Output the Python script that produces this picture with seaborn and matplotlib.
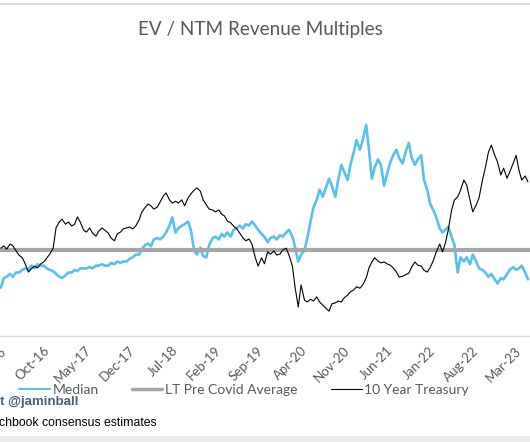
import pandas as pd
import numpy as np
import matplotlib.pyplot as plt
import matplotlib.dates as mdates
from matplotlib.lines import Line2D
import seaborn as sns

# Half-monthly observations, Feb 2016 - Apr 2023
DATES = pd.date_range('2016-02-15', periods=173, freq='SMS')

# Median EV / NTM revenue multiple (x)
MEDIAN = [
    3.5, 4.2, 4.3, 4.5, 4.3, 4.6, 4.6, 4.8, 4.9, 4.8, 5.1, 4.9, 5.2, 5.1, 5.1, 4.9,
    4.8, 4.7, 4.5, 4.3, 4.2, 4.4, 4.6, 4.6, 4.8, 4.7, 4.9, 4.9, 4.9, 5.0, 4.9, 5.1,
    5.1, 5.2, 5.1, 5.1, 5.3, 5.2, 5.4, 5.3, 5.4, 5.4, 5.6, 5.7, 5.9, 5.9, 6.3, 6.6,
    6.7, 6.5, 7.0, 7.1, 7.0, 7.2, 7.5, 8.0, 8.6, 7.5, 7.8, 8.0, 8.1, 8.3, 7.7, 6.2,
    5.9, 6.4, 5.8, 5.7, 6.6, 7.1, 7.2, 7.0, 7.4, 7.2, 7.5, 7.2, 7.7, 7.8, 8.0, 7.8,
    8.1, 8.0, 8.3, 8.0, 7.7, 7.4, 7.2, 6.8, 7.1, 7.2, 7.0, 7.3, 7.2, 7.5, 7.7, 7.2,
    6.4, 5.4, 5.9, 6.2, 7.1, 8.3, 9.3, 9.9, 10.6, 10.1, 10.7, 11.4, 10.9, 10.1, 11.3, 12.4,
    11.9, 11.3, 12.4, 13.3, 14.2, 13.5, 14.2, 15.3, 13.5, 11.4, 12.2, 12.8, 12.4, 10.9, 11.7, 12.6,
    13.1, 13.5, 12.9, 12.5, 13.3, 14.0, 12.9, 12.4, 12.8, 13.1, 11.3, 10.6, 9.6, 9.1, 8.6, 7.8,
    7.5, 7.7, 7.9, 7.2, 6.6, 4.6, 5.7, 5.4, 5.7, 5.2, 5.9, 5.4, 4.9, 4.8, 4.6, 4.3,
    4.5, 4.1, 3.8, 4.2, 4.1, 4.5, 4.8, 5.0, 4.8, 4.9, 5.1, 4.6, 4.1,
]

# 10 year treasury yield (%), secondary axis
TREASURY = [
    1.91, 1.96, 1.89, 2.00, 1.96, 1.85, 1.76, 1.70, 1.57, 1.39, 1.46, 1.52, 1.48, 1.57, 1.61, 1.70,
    1.78, 1.91, 2.35, 2.48, 2.54, 2.43, 2.48, 2.39, 2.43, 2.59, 2.48, 2.30, 2.26, 2.35, 2.24, 2.17,
    2.28, 2.35, 2.30, 2.24, 2.13, 2.07, 2.22, 2.26, 2.33, 2.35, 2.37, 2.33, 2.39, 2.52, 2.70, 2.80,
    2.87, 2.83, 2.76, 2.80, 2.91, 3.04, 3.11, 2.96, 2.89, 2.93, 2.89, 2.96, 2.83, 3.00, 3.09, 3.17,
    3.22, 3.15, 2.96, 2.85, 2.76, 2.74, 2.70, 2.74, 2.65, 2.61, 2.50, 2.46, 2.39, 2.33, 2.24, 2.13,
    2.07, 2.11, 2.00, 1.70, 1.52, 1.70, 1.57, 1.83, 1.78, 1.85, 1.76, 1.78, 1.87, 1.91, 1.76, 1.52,
    1.04, 0.63, 1.11, 0.78, 0.74, 0.80, 0.76, 0.85, 0.74, 0.67, 0.61, 0.54, 0.70, 0.72, 0.76, 0.74,
    0.83, 0.89, 0.96, 1.00, 1.07, 1.04, 1.11, 1.26, 1.48, 1.61, 1.70, 1.63, 1.59, 1.61, 1.57, 1.54,
    1.48, 1.39, 1.28, 1.30, 1.33, 1.37, 1.50, 1.61, 1.54, 1.52, 1.43, 1.39, 1.48, 1.65, 1.83, 2.00,
    1.83, 2.02, 2.30, 2.74, 2.96, 3.02, 3.17, 3.39, 3.28, 2.96, 2.70, 2.85, 3.00, 3.39, 3.65, 4.00,
    4.15, 3.93, 3.78, 3.50, 3.65, 3.43, 3.57, 3.76, 3.93, 3.61, 3.39, 3.48, 3.35,
]

# Long term pre-covid average of the median multiple
LT_AVG = 6.2

SERIES_NAMES = ['Median', 'LT Pre Covid Average', '10 Year Treasury']
TICK_DATES = pd.date_range('2016-03-01', '2023-03-01', freq='7MS')

BLUE = '#5bc0eb'
GREY = '#a6a6a6'
TEXT = '#595959'

sns.set_style('white')
plt.rcParams['font.family'] = ['Lato', 'DejaVu Sans']

fig = plt.figure(figsize=(5.3, 4.42), dpi=100)
ax = fig.add_axes([0, 0.2398, 1, 0.6244])

df = pd.DataFrame({'date': DATES, 'median': MEDIAN, 'treasury': TREASURY})

sns.lineplot(data=df, x='date', y='median', ax=ax, color=BLUE, linewidth=1.9, zorder=2)
ax.axhline(LT_AVG, color=GREY, linewidth=3.0, zorder=3)

ax2 = ax.twinx()
sns.lineplot(data=df, x='date', y='treasury', ax=ax2, color='black', linewidth=0.8)

ax.set_ylim(0, 20)
ax2.set_ylim(0, 6)
ax.set_xlim(pd.Timestamp('2016-02-11'), pd.Timestamp('2023-04-25'))

for a in (ax, ax2):
    for s in a.spines.values():
        s.set_visible(False)
    a.set_ylabel('')
    a.set_xlabel('')
    a.set_yticks([])
ax.spines['bottom'].set_visible(True)
ax.spines['bottom'].set_color('#d9d9d9')
ax.spines['bottom'].set_linewidth(1.0)

ax.set_xticks(TICK_DATES)
ax.xaxis.set_major_formatter(mdates.DateFormatter('%b-%y'))
ax.tick_params(axis='x', length=0, pad=9, labelsize=9.5, labelcolor=TEXT)
for lbl in ax.get_xticklabels():
    lbl.set_rotation(45)
    lbl.set_ha('right')
    lbl.set_rotation_mode('anchor')
    lbl.set_va('center')

# title
fig.text(260 / 530, 1 - 30 / 442, 'EV / NTM Revenue Multiples', ha='center', va='center',
         fontsize=13.6, color=TEXT)

# legend below the axis
handles = [
    Line2D([], [], color=BLUE, linewidth=1.5),
    Line2D([], [], color=GREY, linewidth=2.5),
    Line2D([], [], color='black', linewidth=0.8),
]
fig.legend(handles, SERIES_NAMES, loc='center left', bbox_to_anchor=(19 / 530, 1 - 390 / 442),
           ncol=3, frameon=False, fontsize=10, labelcolor=TEXT, borderpad=0, borderaxespad=0,
           handlelength=2.2, handletextpad=0.2, columnspacing=2.4)

# credit and source lines, cropped at the left edge like the screenshot
fig.text(78 / 530, 1 - 402 / 442, 'Chart @jaminball', ha='right', va='center', fontsize=9.5,
         weight='bold', color='#44607a', family='Liberation Sans')
fig.text(157 / 530, 1 - 423 / 442, 'Source: Pitchbook consensus estimates', ha='right', va='center',
         fontsize=8.8, color='black', family='Liberation Sans')

# screenshot edges
fig.add_artist(Line2D([0, 1], [1 - 4 / 442, 1 - 4 / 442], color='#d4d4d4', linewidth=1.2))
fig.add_artist(plt.Rectangle((0, 0), 1, 6 / 442, color='#ebebeb', linewidth=0))

fig.savefig('out.png', dpi=100)
